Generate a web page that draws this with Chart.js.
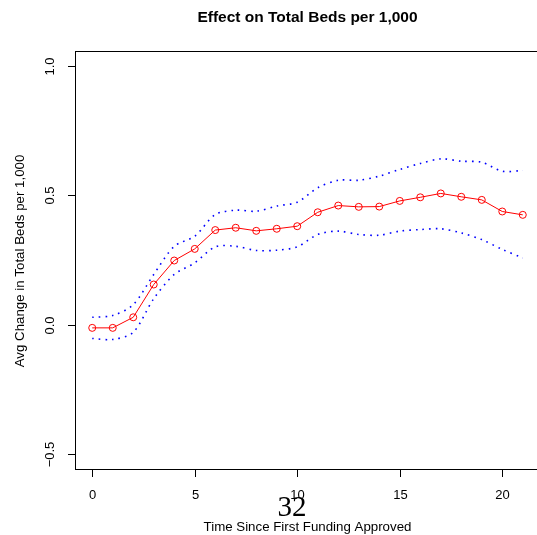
<!DOCTYPE html>
<html>
<head>
<meta charset="utf-8">
<script src="https://cdn.jsdelivr.net/npm/chart.js@4"></script>
<style>
  html, body { margin: 0; padding: 0; background: #fff; overflow: hidden; }
</style>
</head>
<body>
<canvas id="bedsChart" width="545" height="535"></canvas>
<script>
// periods since first funding approval
var timeSteps = [0, 1, 2, 3, 4, 5, 6, 7, 8, 9, 10, 11, 12, 13, 14, 15, 16, 17, 18, 19, 20, 21];
// average change in total beds per 1,000 and its confidence band
var estimate = [-0.013, -0.013, 0.028, 0.155, 0.248, 0.293, 0.366, 0.375, 0.363, 0.371, 0.381,
                0.435, 0.461, 0.456, 0.457, 0.479, 0.493, 0.508, 0.495, 0.483, 0.438, 0.425];
var upperBound = [0.028, 0.035, 0.077, 0.194, 0.303, 0.342, 0.426, 0.443, 0.439, 0.459, 0.474,
                  0.530, 0.559, 0.559, 0.575, 0.601, 0.624, 0.642, 0.633, 0.629, 0.594, 0.597];
var lowerBound = [-0.054, -0.058, -0.030, 0.100, 0.194, 0.239, 0.301, 0.303, 0.287, 0.288, 0.301,
                  0.349, 0.362, 0.349, 0.346, 0.362, 0.368, 0.371, 0.355, 0.329, 0.291, 0.258];
var xTicks = [0, 5, 10, 15, 20];
var yTicks = [-0.5, 0.0, 0.5, 1.0];
var yTickLabels = ['-0.5', '0.0', '0.5', '1.0'];

function pairs(ys) {
    return timeSteps.map(function(t, i) { return { x: t, y: ys[i] }; });
}

// R-style frame, axes, titles and page number
var baseFrame = {
    id: 'baseFrame',
    afterDraw: function(chart) {
        var ctx = chart.ctx;
        var a = chart.chartArea;
        var xs = chart.scales.x;
        var ys = chart.scales.y;
        ctx.save();
        ctx.strokeStyle = '#000';
        ctx.fillStyle = '#000';
        ctx.lineWidth = 1;
        ctx.strokeRect(Math.round(a.left) + 0.5, Math.round(a.top) + 0.5,
                       Math.round(a.right - a.left), Math.round(a.bottom - a.top));

        // x axis
        ctx.font = '13px "Liberation Sans", Arial, sans-serif';
        ctx.textAlign = 'center';
        ctx.textBaseline = 'middle';
        xTicks.forEach(function(v) {
            var px = Math.round(xs.getPixelForValue(v)) + 0.5;
            ctx.beginPath();
            ctx.moveTo(px, a.bottom);
            ctx.lineTo(px, a.bottom + 8);
            ctx.stroke();
            ctx.fillText(String(v), px, 495);
        });

        // y axis, labels rotated like R's las=0
        yTicks.forEach(function(v, i) {
            var py = Math.round(ys.getPixelForValue(v)) + 0.5;
            ctx.beginPath();
            ctx.moveTo(a.left, py);
            ctx.lineTo(a.left - 7, py);
            ctx.stroke();
            ctx.save();
            ctx.translate(50, py);
            ctx.rotate(-Math.PI / 2);
            ctx.fillText(yTickLabels[i].replace('-', '\u2212'), 0, 0);
            ctx.restore();
        });

        var midX = (a.left + a.right) / 2;
        ctx.font = 'bold 15.5px "Liberation Sans", Arial, sans-serif';
        ctx.fillText('Effect on Total Beds per 1,000', midX, 18);

        ctx.font = '13.3px "Liberation Sans", Arial, sans-serif';
        ctx.fillText('Time Since First Funding Approved', midX, 527);

        ctx.save();
        ctx.translate(20, 261);
        ctx.rotate(-Math.PI / 2);
        ctx.fillText('Avg Change in Total Beds per 1,000', 0, 0);
        ctx.restore();

        ctx.font = '29px "Liberation Serif", "DejaVu Serif", serif';
        ctx.fillText('32', 292, 508);
        ctx.restore();
    }
};

var ctx = document.getElementById('bedsChart').getContext('2d');
var bedsChart = new Chart(ctx, {
    type: 'line',
    data: {
        datasets: [
            {
                label: 'Upper',
                data: pairs(upperBound),
                borderColor: '#0000ff',
                borderWidth: 1.6,
                borderDash: [1.6, 5],
                pointRadius: 0,
                tension: 0.3,
                fill: false
            },
            {
                label: 'Lower',
                data: pairs(lowerBound),
                borderColor: '#0000ff',
                borderWidth: 1.6,
                borderDash: [1.6, 5],
                pointRadius: 0,
                tension: 0.3,
                fill: false
            },
            {
                label: 'Estimate',
                data: pairs(estimate),
                borderColor: '#ff0000',
                borderWidth: 1,
                pointRadius: 3.5,
                pointBorderWidth: 1,
                pointBorderColor: '#ff0000',
                pointBackgroundColor: 'rgba(0,0,0,0)',
                tension: 0,
                fill: false
            }
        ]
    },
    options: {
        responsive: false,
        devicePixelRatio: 1,
        animation: false,
        layout: { padding: { left: 75, top: 51, right: 4, bottom: 66 } },
        scales: {
            x: { type: 'linear', min: -0.84, max: 21.84, display: false },
            y: { type: 'linear', min: -0.56, max: 1.06, display: false }
        },
        plugins: {
            legend: { display: false },
            tooltip: { enabled: false },
            title: { display: false }
        }
    },
    plugins: [baseFrame]
});
</script>
</body>
</html>
